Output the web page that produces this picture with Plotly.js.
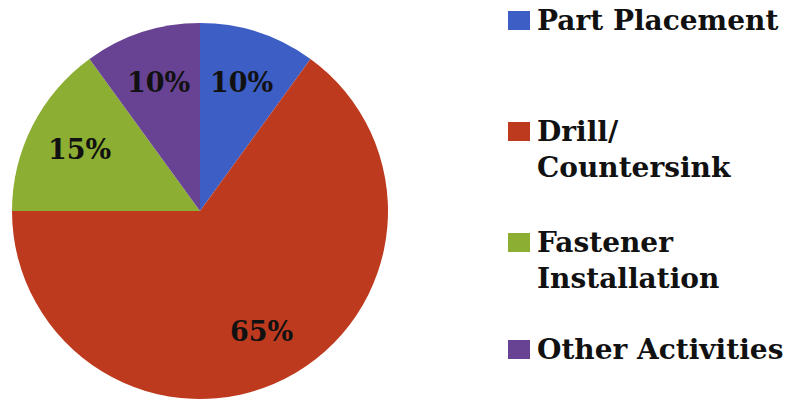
<!DOCTYPE html>
<html>
<head>
<meta charset="utf-8">
<script src="https://cdn.plot.ly/plotly-3.0.1.min.js"></script>
<style>html,body{margin:0;padding:0;background:#fff;}#chart{width:801px;height:408px;}</style>
</head>
<body>
<div id="chart"></div>
<script>
const categories = ["Part Placement", "Drill/ Countersink", "Fastener Installation", "Other Activities"];
const legendLines = [["Part Placement"], ["Drill/", "Countersink"], ["Fastener", "Installation"], ["Other Activities"]];
const shares = [10, 65, 15, 10];
const colors = ["#3d5ec4", "#bd3a1f", "#8cae32", "#684394"];

const FONT = "DejaVu Serif";
const FS = 28;
const W = 801, H = 408;

// pie geometry (pixels)
const cx = 200, cy = 211, R = 188;
const dom = {x: [(cx - R) / W, (cx + R) / W], y: [(H - cy - R) / H, (H - cy + R) / H]};

const trace = {
  type: "pie",
  labels: categories,
  values: shares,
  sort: false,
  direction: "clockwise",
  rotation: 0,
  marker: {colors: colors, line: {width: 0}},
  textinfo: "none",
  domain: dom,
  showlegend: false,
  hoverinfo: "label+percent"
};

const shapes = [], annotations = [];

// percentage labels at 0.72 R along each slice bisector (derived from the data)
const total = shares.reduce((a, b) => a + b, 0);
let cum = 0;
shares.forEach((v, i) => {
  const mid = (cum + v / 2) / total * 2 * Math.PI;
  cum += v;
  const k = 0.72;
  const px = cx + k * R * Math.sin(mid);
  const py = cy - k * R * Math.cos(mid);
  annotations.push({
    xref: "paper", yref: "paper", x: px / W, y: 1 - py / H,
    xanchor: "center", yanchor: "middle", showarrow: false,
    text: Math.round(v / total * 100) + "%",
    font: {family: FONT, size: 27, color: "#111", weight: "bold"}
  });
});

// custom legend (square + text) built from the arrays
const legendTop = [20, 131, 242, 349]; // pixel centre of first line
categories.forEach((c, i) => {
  const yc = legendTop[i];
  shapes.push({
    type: "rect", xref: "paper", yref: "paper",
    x0: 508 / W, x1: 530 / W,
    y0: 1 - (yc + 10) / H, y1: 1 - (yc - 9) / H,
    fillcolor: colors[i], line: {width: 0}
  });
  annotations.push({
    xref: "paper", yref: "paper",
    x: 535 / W, y: 1 - (yc - 18) / H,
    xanchor: "left", yanchor: "top", align: "left",
    showarrow: false,
    text: legendLines[i].join("<br>"),
    font: {family: FONT, size: FS, color: "#111", weight: "bold"}
  });
});

const layout = {
  width: W, height: H,
  margin: {l: 0, r: 0, t: 0, b: 0},
  paper_bgcolor: "#ffffff",
  showlegend: false,
  shapes: shapes,
  annotations: annotations
};

Plotly.newPlot("chart", [trace], layout, {displayModeBar: false, staticPlot: true});
</script>
</body>
</html>
